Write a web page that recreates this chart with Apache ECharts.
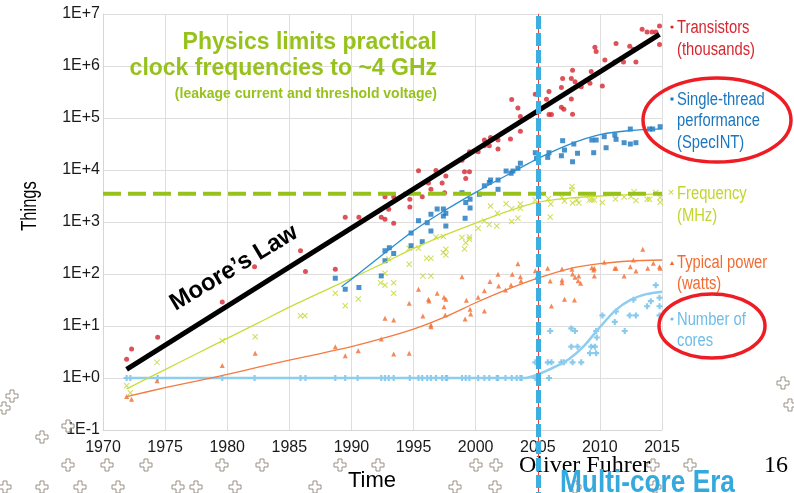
<!DOCTYPE html>
<html><head><meta charset="utf-8">
<script src="https://cdn.jsdelivr.net/npm/echarts@6/dist/echarts.min.js"></script>
<style>html,body{margin:0;padding:0;background:#fff}#c{width:794px;height:493px}</style>
</head><body><div id="c"></div>
<script>
// ---------------- data ----------------
const xTicks = [1970, 1975, 1980, 1985, 1990, 1995, 2000, 2005, 2010, 2015];
const clockLimitMHz = 3500;
const multicoreYear = 2005;

const transistorYears = [1971.9,1972.3,1974.4,1979.6,1982.2,1985.9,1986.3,1988.7,1989.5,1990.6,1992.4,1992.7,1993.0,1993.4,1992.7,1993.4,1994.7,1994.7,1995.4,1995.7,1996.2,1996.4,1996.8,1997.3,1997.5,1997.6,1998.9,1999.1,1999.5,1999.2,1999.5,2000.2,2000.7,2000.7,2001.1,2001.2,2001.8,2001.8,2002.8,2002.9,2003.4,2003.6,2003.6,2004.8,2004.9,2005.7,2005.9,2005.9,2006.1,2006.9,2006.9,2007.0,2007.1,2007.7,2007.8,2007.7,2007.8,2008.0,2008.5,2009.2,2009.3,2009.6,2009.7,2010.2,2010.4,2011.2,2011.3,2011.9,2012.4,2012.7,2012.9,2013.4,2013.8,2014.2,2014.5,2014.8,2014.8];
const transistorCounts = [2.3,3.6,6.1,29,138,281,112,123,1230,1230,1230,1130,1750,944,3070,3070,1950,2750,9700,3070,5600,4260,9800,5600,3640,7670,15400,9300,9300,6900,22500,22500,37700,29300,29300,42400,37700,25300,39500,228000,155000,55400,107000,286000,126000,230000,323000,117000,117000,388000,161000,578000,148000,232000,118000,578000,830000,500000,400000,465000,780000,2300000,1900000,413000,1300000,1200000,2700000,1200000,2400000,2100000,1200000,5100000,4500000,4500000,4500000,5900000,2600000];

const perfYears = [1988.7,1989.5,1990.6,1992.4,1992.7,1992.7,1993.05,1993.4,1994.8,1994.8,1995.4,1995.7,1996.1,1996.4,1996.4,1996.9,1997.4,1997.4,1997.6,1997.6,1998.9,1999.15,1999.2,1999.55,1999.55,2000.3,2000.7,2001.1,2001.2,2001.8,2001.8,2002.45,2002.85,2003.0,2003.4,2003.6,2004.8,2004.9,2005.8,2005.9,2006.9,2007.0,2007.15,2007.9,2007.8,2008.2,2009.35,2009.7,2009.5,2010.35,2010.5,2011.2,2011.3,2011.95,2012.45,2012.9,2012.45,2014.0,2014.25,2014.85];
const perfValues = [83,51,55,92,180,280,320,248,350,614,1060,418,970,671,1410,1780,1780,1300,1470,838,3660,1180,2370,2740,1860,3420,4970,5750,6420,4250,6420,9560,8650,9560,10800,13500,21500,16800,17500,21500,18800,36600,24200,31600,14400,21000,37700,37700,21500,43700,26800,47100,38900,33500,31600,33500,61400,61400,61400,68000];

const freqYears = [1971.9,1972.2,1974.35,1979.6,1982.25,1985.9,1986.25,1988.7,1989.5,1990.55,1992.35,1992.7,1992.7,1993.0,1993.4,1993.4,1994.65,1994.65,1995.4,1995.75,1996.05,1996.4,1996.4,1996.8,1997.4,1997.4,1997.6,1997.6,1998.9,1999.2,1999.1,1999.5,1999.5,2000.2,2000.7,2001.1,2001.2,2001.75,2001.7,2002.45,2002.9,2002.9,2003.4,2003.6,2003.6,2004.8,2005.85,2006.05,2006.0,2006.95,2007.15,2007.75,2007.75,2007.8,2008.15,2008.3,2009.15,2009.35,2009.55,2010.2,2011.25,2011.95,2012.5,2012.75,2012.9,2013.8,2014.0,2014.5,2014.85,2014.85];
const freqValues = [0.71,0.52,2.0,5.2,6.2,15.8,15.8,42.5,24.6,33,68,103,61,194,68,42.5,154,312,312,92,200,200,92,515,526,259,300,232,504,400,303,515,465,757,1050,895,2030,1470,838,2240,1020,1800,1180,2220,1830,2650,2830,2220,1250,2960,2530,4820,4180,2320,2650,2320,2650,2650,2650,2370,2770,3030,3090,3830,2590,2740,2740,3690,2960,2400];

const powerYears = [1971.9,1972.3,1974.35,1979.6,1982.25,1988.7,1989.5,1990.55,1992.4,1992.7,1993.4,1993.4,1994.65,1994.65,1995.4,1995.75,1996.2,1996.25,1996.4,1996.4,1996.9,1997.45,1997.6,1997.45,1997.55,1998.9,1999.25,1999.55,1999.6,1999.15,2000.2,2000.7,2000.7,2001.15,2001.8,2001.85,2002.4,2002.85,2002.95,2003.4,2003.6,2003.65,2004.8,2004.9,2005.8,2006.0,2006.1,2006.95,2006.95,2006.95,2007.15,2007.75,2007.8,2007.95,2008.0,2008.3,2008.25,2008.45,2009.35,2009.55,2009.5,2009.55,2010.35,2011.2,2011.3,2011.95,2012.45,2012.7,2012.9,2013.45,2013.85,2014.3,2014.8,2014.85];
const powerValues = [0.44,0.39,0.89,1.73,2.98,4.0,2.68,3.35,5.6,14.1,13.0,2.9,27.3,3.0,50.8,15.6,32.6,30.3,10.5,9.7,42.5,35.6,32.6,23.5,16.3,88.7,31.2,21,17,13.7,35.6,47.7,19.4,72,99,58.8,49.3,61.4,98.7,158,88.7,73.3,116,86.4,129,73.3,24.3,125,76.7,68,32.6,123,100,31.6,86.4,91.6,74.3,66.2,132,129,119,91.6,168,129,129,91.6,138,186,114,299,129,161,138,129];

const coreYears = [1971.9,1972.2,1974.4,1979.6,1982.2,1985.9,1986.3,1988.7,1989.5,1990.5,1992.4,1992.7,1993.0,1993.4,1994.7,1995.4,1995.7,1996.1,1996.4,1996.8,1997.3,1997.6,1997.7,1998.9,1999.2,1999.5,2000.2,2000.7,2001.1,2001.7,2001.8,2002.4,2002.9,2003.3,2003.6,2003.7,2004.8,2004.8,2005.8,2006.1,2005.9,2006.0,2006.9,2007.1,2007.7,2007.7,2008.0,2008.2,2007.8,2008.5,2009.2,2009.7,2009.3,2009.6,2009.7,2009.75,2010.2,2011.2,2011.3,2012.0,2012.4,2012.9,2012.7,2013.8,2014.1,2014.5,2014.8,2014.8,2014.8];
const coreCounts = [1,1,1,1,1,1,1,1,1,1,1,1,1,1,1,1,1,1,1,1,1,1,1,1,1,1,1,1,1,1,1,1,1,1,1,1,1,2,2,2,1,8,2,2,4,9,8,4,2,2,3,3,4,4,8,6,16,12,19,8,16,16,32,24,30,61,35,24,16];

const mooreYears = [1971.9, 2014.8];
const mooreValues = [1.47, 4.07e6];

const perfTrendYears = [1989.2,1990,1992.5,1995,1997.5,2000,2002.5,2005,2007.5,2010,2012.5,2015];
const perfTrendValues = [57,79,234,676,1660,3720,7940,16600,30900,47900,57500,61700];
const freqTrendYears = [1971.9,1975,1977.5,1980,1982.5,1985,1987.5,1990,1992.5,1995,1997.5,2000,2002.5,2005,2007.5,2010,2012.5,2015];
const freqTrendValues = [0.62,1.45,2.9,5.8,11.5,23,44,83,158,310,560,955,1580,2400,2880,3160,3350,3470];
const powerTrendYears = [1971.9,1975,1977.5,1980,1982.5,1985,1987.5,1990,1992.5,1995,1997.5,2000,2002.5,2005,2007.5,2010,2012.5,2015];
const powerTrendValues = [0.44,0.65,0.87,1.17,1.62,2.2,2.95,4.0,5.75,8.7,14.8,28,50,83,126,158,178,186];
const coreTrendYears = [1971.9,1975,1980,1985,1990,1995,2000,2002.5,2004,2005,2006.25,2007.5,2008.75,2010,2011.25,2012.5,2013.75,2015];
const coreTrendValues = [1,1,1,1,1,1,1,1,1,1.17,1.58,2.3,4.2,9.5,20,32,41,45.7];

// ---------------- styling ----------------
const C = {
  red:'#d7262f', blue:'#1b76bd', yellow:'#c3d52e', orange:'#f26b31', cyan:'#6dbde8',
  green:'#97c21c', era:'#35a9dd'
};
const SANS = '"Liberation Sans",Arial,sans-serif';
const SERIF = '"Liberation Serif","Times New Roman",serif';
const NARROW_SCALE = 0.82;
const X_SYM = 'path://M0,1.2 L1.2,0 L5,3.8 L8.8,0 L10,1.2 L6.2,5 L10,8.8 L8.8,10 L5,6.2 L1.2,10 L0,8.8 L3.8,5 Z';
const PLUS_SYM = 'path://M3.2,0 H6.8 V3.2 H10 V6.8 H6.8 V10 H3.2 V6.8 H0 V3.2 H3.2 Z';

const zip = (a, b) => a.map((v, i) => [v, b[i]]);

const chart = echarts.init(document.getElementById('c'), null, {renderer:'canvas'});

const scatter = (name, xs, ys, symbol, size, color) => ({
  name, type:'scatter', data: zip(xs, ys), symbol, symbolSize: size,
  itemStyle:{color}, z:2, silent:true
});
const trend = (name, xs, ys, color, width) => ({
  name, type:'line', data: zip(xs, ys), showSymbol:false, smooth:0.25,
  lineStyle:{color, width}, z:3, silent:true
});

chart.setOption({
  animation:false,
  backgroundColor:'#ffffff',
  grid:{left:103, top:14, right:132, bottom:63, containLabel:false},
  xAxis:{
    type:'value', min:xTicks[0], max:xTicks[xTicks.length-1], interval:5,
    axisLine:{show:true, lineStyle:{color:'#d6d6d6', width:1}},
    axisTick:{show:false},
    splitLine:{show:true, lineStyle:{color:'#dedede', width:1}},
    axisLabel:{color:'#1a1a1a', fontFamily:SANS, fontSize:16, margin:10, formatter: v => String(v)}
  },
  yAxis:{
    type:'log', logBase:10, min:0.1, max:1e7,
    axisLine:{show:true, lineStyle:{color:'#d6d6d6', width:1}},
    axisTick:{show:false},
    splitLine:{show:true, lineStyle:{color:'#dedede', width:1}},
    minorSplitLine:{show:false},
    axisLabel:{color:'#1a1a1a', fontFamily:SANS, fontSize:16, margin:3,
      formatter: v => { const e = Math.round(Math.log10(v)); return '1E' + (e >= 0 ? '+' : '') + e; }}
  },
  series:[
    trend('coresTrend', coreTrendYears, coreTrendValues, '#8fcdee', 2.5),
    scatter('Number of cores', coreYears, coreCounts, PLUS_SYM, 6, C.cyan),
    scatter('Typical power', powerYears, powerValues, 'triangle', 5, C.orange),
    scatter('Frequency', freqYears, freqValues, X_SYM, 6, C.yellow),
    scatter('Single-thread performance', perfYears, perfValues, 'rect', 5, C.blue),
    scatter('Transistors', transistorYears, transistorCounts, 'circle', 5, C.red),
    trend('powerTrend', powerTrendYears, powerTrendValues, '#f47a40', 1.3),
    trend('freqTrend', freqTrendYears, freqTrendValues, '#c9dc3c', 1.3),
    trend('perfTrend', perfTrendYears, perfTrendValues, '#2a8fd0', 1.3),
    {name:'clockLimit', type:'line', data: zip([xTicks[0], xTicks[xTicks.length-1]], [clockLimitMHz, clockLimitMHz]),
      showSymbol:false, lineStyle:{color:C.green, width:4, type:[18,7]}, z:4, silent:true},
    {name:"Moore's Law", type:'line', data: zip(mooreYears, mooreValues), showSymbol:false,
      lineStyle:{color:'#000', width:5}, z:5, silent:true}
  ]
});

// ---------------- annotations ----------------
const W = 794, H = 493;
const topPt = chart.convertToPixel({gridIndex:0}, [multicoreYear, 1e7]);
const vx = Math.round(topPt[0]) + 0.5;

const txt = (text, x, y, color, font, align, vAlign, extra) => Object.assign({
  type:'text', x, y, z:20, silent:true,
  style:{text, fill:color, font, textAlign:align||'left', align:align||'left',
    textVerticalAlign:vAlign||'middle', verticalAlign:vAlign||'middle'}
}, extra||{});
const narrow = {scaleX: NARROW_SCALE};

const plusPts = [[-2,-6],[2,-6],[2,-2],[6,-2],[6,2],[2,2],[2,6],[-2,6],[-2,2],[-6,2],[-6,-2],[-2,-2]];
const crossAt = [[12,396],[4,408],[68,426],[42,437],[783,383],[790,405],
  [68,465],[107,465],[146,465],[222,465],[262,465],[340,465],[378,465],[476,465],[496,465],[653,465],[690,465],
  [5,487],[42,487],[80,487],[118,487],[178,487],[196,487],[235,487],[315,487],[455,487],[495,487],[575,487],[655,487]];

const graphics = [];
crossAt.forEach(p => graphics.push({type:'polygon', x:p[0], y:p[1], z:1, silent:true,
  shape:{points:plusPts}, style:{fill:'#fff', stroke:'#9a8f84', lineWidth:1}}));

const legendFont = '18px ' + SANS;
graphics.push(
  // vertical multi-core divider
  {type:'line', z:30, silent:true, shape:{x1:vx, y1:topPt[1], x2:vx, y2:H}, style:{stroke:'#e8403a', lineWidth:1}},
  {type:'line', z:31, silent:true, shape:{x1:vx, y1:topPt[1]+2, x2:vx, y2:H}, style:{stroke:'#3bb0e0', lineWidth:5, lineDash:[13,4]}},
  // titles
  txt('Physics limits practical', 437, 43, C.green, 'bold 23px ' + SANS, 'right'),
  txt('clock frequencies to ~4 GHz', 437, 69, C.green, 'bold 23px ' + SANS, 'right'),
  txt('(leakage current and threshold voltage)', 437, 94, C.green, 'bold 14px ' + SANS, 'right'),
  txt("Moore\u2019s Law", 234, 268, '#000', 'bold 24px ' + SANS, 'center', 'middle', {rotation: 31*Math.PI/180}),
  txt('Things', 30, 206, '#000', '22px ' + SANS, 'center', 'middle', {rotation: Math.PI/2, scaleX:0.75}),
  txt('Time', 372, 481, '#000', '22px ' + SANS, 'center'),
  txt('Oliver Fuhrer', 519, 466, '#000', '24px ' + SERIF, 'left'),
  txt('16', 776, 466, '#000', '24px ' + SERIF, 'center'),
  txt('Multi-core Era', 560, 483, C.era, 'bold 32px ' + SANS, 'left', 'middle', narrow),
  // legend
  {type:'circle', z:20, silent:true, shape:{cx:672, cy:27, r:1.6}, style:{fill:C.red}},
  txt('Transistors', 677, 28, C.red, legendFont, 'left', 'middle', narrow),
  txt('(thousands)', 677, 50, C.red, legendFont, 'left', 'middle', narrow),
  {type:'rect', z:20, silent:true, shape:{x:670.5, y:97.5, width:3, height:3}, style:{fill:C.blue}},
  txt('Single-thread', 677, 100, C.blue, legendFont, 'left', 'middle', narrow),
  txt('performance', 677, 121, C.blue, legendFont, 'left', 'middle', narrow),
  txt('(SpecINT)', 677, 143, C.blue, legendFont, 'left', 'middle', narrow),
  txt('\u00d7', 671, 193, C.yellow, '11px ' + SANS, 'center'),
  txt('Frequency', 677, 194, C.yellow, legendFont, 'left', 'middle', narrow),
  txt('(MHz)', 677, 216, C.yellow, legendFont, 'left', 'middle', narrow),
  {type:'polygon', z:20, silent:true, shape:{points:[[672,261],[674.2,265],[669.8,265]]}, style:{fill:C.orange}},
  txt('Typical power', 677, 263, C.orange, legendFont, 'left', 'middle', narrow),
  txt('(watts)', 677, 284, C.orange, legendFont, 'left', 'middle', narrow),
  {type:'circle', z:20, silent:true, shape:{cx:672, cy:319, r:1.6}, style:{fill:C.cyan}},
  txt('Number of', 677, 320, C.cyan, legendFont, 'left', 'middle', narrow),
  txt('cores', 677, 341, C.cyan, legendFont, 'left', 'middle', narrow),
  // highlight ellipses
  {type:'ellipse', z:40, silent:true, shape:{cx:717, cy:120, rx:74, ry:42}, style:{fill:'none', stroke:'#ee1c24', lineWidth:3.5}},
  {type:'ellipse', z:40, silent:true, shape:{cx:712, cy:326, rx:53, ry:32}, style:{fill:'none', stroke:'#ee1c24', lineWidth:3.5}}
);

chart.setOption({graphic:{elements:graphics}});
</script></body></html>
